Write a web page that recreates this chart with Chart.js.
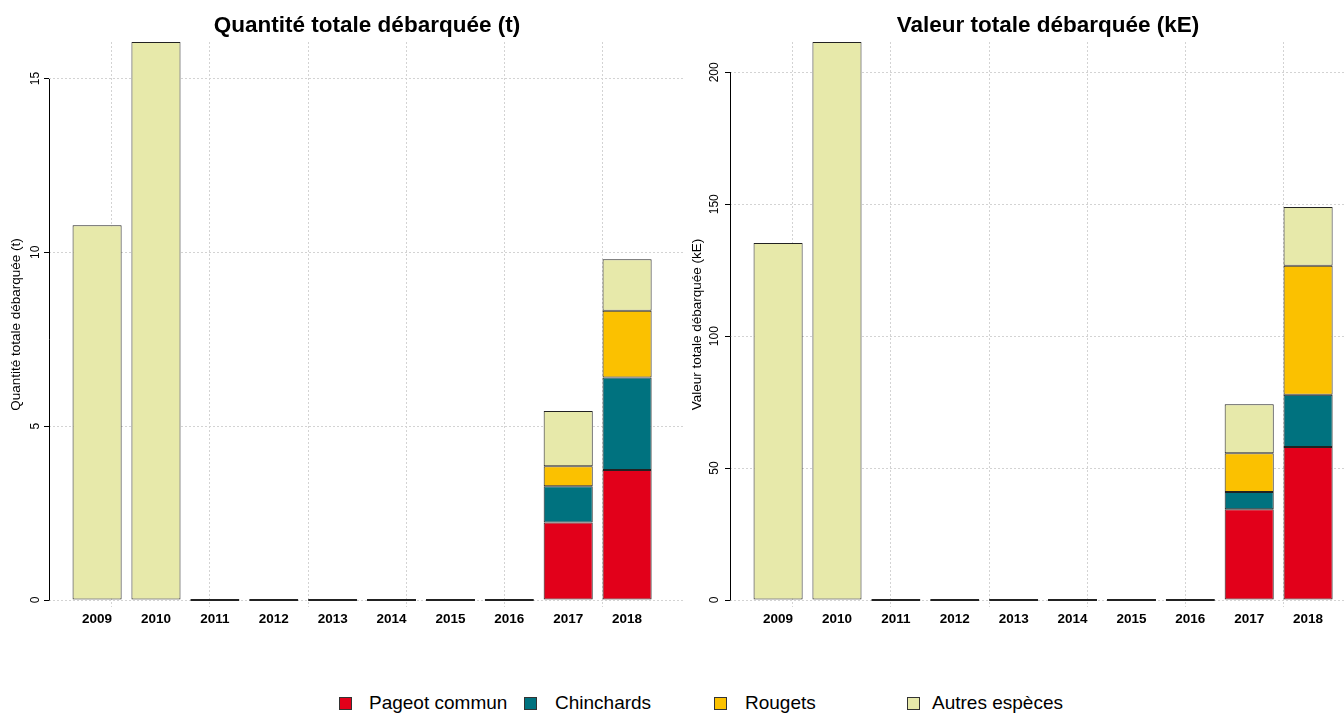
<!DOCTYPE html>
<html><head><meta charset="utf-8">
<script src="https://cdn.jsdelivr.net/npm/chart.js@4.4.1/dist/chart.umd.min.js"></script>
<style>
html,body{margin:0;padding:0;background:#fff;overflow:hidden;width:1344px;height:713px;position:relative;}
#c1{position:absolute;left:0;top:0;}
#c2{position:absolute;left:681px;top:0;}
.leg{position:absolute;top:692px;font:19px 'Liberation Sans',Arial,sans-serif;color:#000;white-space:nowrap;line-height:22px;}
.sq{position:absolute;top:697px;width:11px;height:11px;border:1px solid #333;}
</style></head>
<body>
<canvas id="c1" width="720" height="640"></canvas>
<canvas id="c2" width="720" height="640"></canvas>
<div id="legend"></div>
<script>
// ---- data ----
const years = ['2009','2010','2011','2012','2013','2014','2015','2016','2017','2018'];
const seriesNames = ['Pageot commun','Chinchards','Rougets','Autres espèces'];
const seriesColors = ['#E2001A','#00727F','#FBC100','#E7E9AA'];

const pageotQ     = [0, 0, 0, 0, 0, 0, 0, 0, 2.23, 3.74];
const chinchardsQ = [0, 0, 0, 0, 0, 0, 0, 0, 1.04, 2.66];
const rougetsQ    = [0, 0, 0, 0, 0, 0, 0, 0, 0.58, 1.92];
const autresQ     = [10.78, 16.05, 0, 0, 0, 0, 0, 0, 1.59, 1.48];

const pageotV     = [0, 0, 0, 0, 0, 0, 0, 0, 34.4, 58.0];
const chinchardsV = [0, 0, 0, 0, 0, 0, 0, 0, 6.5, 19.8];
const rougetsV    = [0, 0, 0, 0, 0, 0, 0, 0, 14.7, 48.9];
const autresV     = [135.3, 211.5, 0, 0, 0, 0, 0, 0, 18.6, 22.3];

const yTicksQ = [0, 5, 10, 15];
const yTicksV = [0, 50, 100, 150, 200];
const xGridTicks = [0, 2, 4, 6, 8, 10, 12];

// ---- layout helpers (R barplot geometry: width 1, space 0.2) ----
const pos = i => 0.7 + 1.2 * i;
const xMin = 0.2 - 0.04 * 12;
const xMax = 12.2 + 0.04 * 12;

Chart.defaults.font.family = "'Liberation Sans', Arial, sans-serif";
Chart.defaults.color = '#000';

const axisLine = {
  id: 'axisLine',
  afterDraw(chart) {
    const s = chart.scales.y, ctx = chart.ctx, t = s.ticks;
    const top = Math.round(s.getPixelForValue(t[t.length - 1].value));
    const bot = Math.round(s.getPixelForValue(t[0].value));
    const x = Math.round(s.right) + 0.5;
    ctx.save();
    ctx.strokeStyle = '#000'; ctx.lineWidth = 1;
    ctx.beginPath(); ctx.moveTo(x, top); ctx.lineTo(x, bot + 0.5); ctx.stroke();
    ctx.restore();
  }
};

function makeChart(id, title, yTitle, series, yTicks, tickPad) {
  const totals = years.map((_, i) => series.reduce((s, d) => s + d[i], 0));
  const yMax = Math.max(...totals);
  const yMin = -yMax * 0.0125;
  const datasets = seriesNames.map((name, k) => ({
    label: name,
    data: series[k].map((v, i) => ({ x: pos(i), y: v })),
    backgroundColor: seriesColors[k],
    borderColor: '#222',
    borderWidth: 1,
    borderSkipped: false,
    categoryPercentage: 1,
    barPercentage: 1 / 1.2,
    minBarLength: k === series.length - 1 ? 2 : 0
  }));
  return new Chart(document.getElementById(id), {
    type: 'bar',
    data: { datasets },
    plugins: [axisLine],
    options: {
      responsive: false, animation: false, devicePixelRatio: 1,
      layout: { padding: { left: 0, right: 35, top: 0, bottom: 0 } },
      plugins: {
        legend: { display: false },
        tooltip: { enabled: false },
        title: { display: true, fullSize: false, text: title, color: '#000',
                 font: { size: 22.5, weight: 'bold' }, padding: { top: 12, bottom: 3 } }
      },
      scales: {
        x: {
          type: 'linear', min: xMin, max: xMax, offset: false, stacked: true, position: 'bottom',
          afterBuildTicks: s => { s.ticks = years.map((_, i) => ({ value: pos(i) })); },
          afterFit: s => { s.height = 33; },
          ticks: { autoSkip: false, maxRotation: 0, minRotation: 0, padding: 4, color: '#000',
                   font: { size: 13.5, weight: 'bold' }, callback: (v, i) => years[i] },
          grid: { display: false, drawTicks: false }, border: { display: false }
        },
        xg: {
          type: 'linear', min: xMin, max: xMax, offset: false, position: 'bottom',
          afterBuildTicks: s => { s.ticks = xGridTicks.map(v => ({ value: v })); },
          afterFit: s => { s.height = 0; },
          ticks: { display: false },
          grid: { color: '#d3d3d3', drawTicks: false, lineWidth: 1 },
          border: { display: false, dash: [2, 2] }
        },
        y: {
          type: 'linear', stacked: true, min: yMin, max: yMax,
          afterBuildTicks: s => { s.ticks = yTicks.map(v => ({ value: v })); },
          afterFit: s => { s.width = 49; },
          ticks: { minRotation: 90, maxRotation: 90, crossAlign: 'center', padding: tickPad,
                   color: '#000', font: { size: 12 } },
          grid: { color: '#d3d3d3', drawTicks: true, tickLength: 5, tickColor: '#000',
                  tickWidth: 1, tickBorderDash: [] },
          border: { display: false, dash: [2, 2] },
          title: { display: true, text: yTitle, color: '#000', font: { size: 13.5 },
                   padding: { top: 8, bottom: 0 } }
        }
      }
    }
  });
}

makeChart('c1', 'Quantité totale débarquée (t)', 'Quantité totale débarquée (t)',
          [pageotQ, chinchardsQ, rougetsQ, autresQ], yTicksQ, 2);
makeChart('c2', 'Valeur totale débarquée (kE)', 'Valeur totale débarquée (kE)',
          [pageotV, chinchardsV, rougetsV, autresV], yTicksV, 0);

// ---- legend ----
const legendSq = [339, 524, 714, 907];
const legendTx = [369, 555, 745, 932];
const leg = document.getElementById('legend');
seriesNames.forEach((n, k) => {
  const sq = document.createElement('div');
  sq.className = 'sq'; sq.style.left = legendSq[k] + 'px'; sq.style.background = seriesColors[k];
  const tx = document.createElement('div');
  tx.className = 'leg'; tx.style.left = legendTx[k] + 'px'; tx.textContent = n;
  leg.appendChild(sq); leg.appendChild(tx);
});
</script>
</body></html>
